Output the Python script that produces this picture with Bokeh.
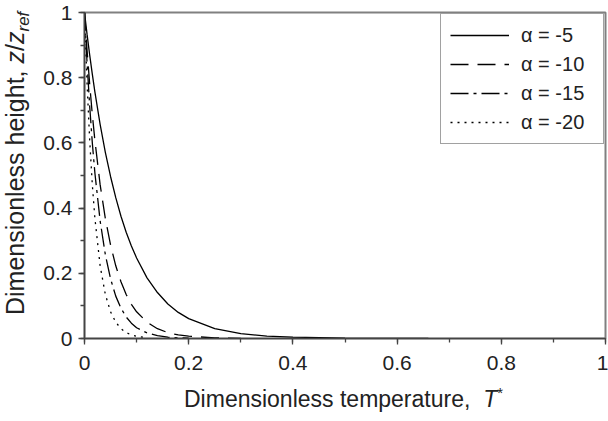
from bokeh.plotting import figure
from bokeh.models import (Range1d, SingleIntervalTicker, Legend, LegendItem, Div)
from bokeh.layouts import row, column
from bokeh.embed import file_html
from bokeh.resources import INLINE

# ---- data ----
T_a5 = [0, 0.005, 0.01, 0.015, 0.02, 0.03, 0.04, 0.05, 0.06, 0.07, 0.08, 0.09,
        0.10, 0.12, 0.14, 0.16, 0.18, 0.20, 0.25, 0.30, 0.35, 0.40, 0.50, 0.66]
z_a5 = [1.0, 0.932, 0.869, 0.811, 0.756, 0.657, 0.571, 0.497, 0.432, 0.375, 0.326, 0.284,
        0.247, 0.186, 0.141, 0.106, 0.080, 0.061, 0.030, 0.015, 0.007, 0.004, 0.001, 0.0]

T_a10 = [0, 0.005, 0.01, 0.015, 0.02, 0.03, 0.04, 0.05, 0.06, 0.07, 0.08, 0.09,
         0.10, 0.12, 0.14, 0.16, 0.18, 0.20, 0.25, 0.30]
z_a10 = [1.0, 0.882, 0.779, 0.687, 0.607, 0.472, 0.368, 0.287, 0.223, 0.174, 0.135, 0.105,
         0.082, 0.050, 0.030, 0.018, 0.011, 0.007, 0.002, 0.0]

T_a15 = [0, 0.005, 0.01, 0.015, 0.02, 0.03, 0.04, 0.05, 0.06, 0.07, 0.08, 0.09,
         0.10, 0.12, 0.14, 0.16, 0.18, 0.20]
z_a15 = [1.0, 0.844, 0.712, 0.600, 0.507, 0.361, 0.257, 0.183, 0.130, 0.093, 0.066, 0.047,
         0.033, 0.017, 0.009, 0.004, 0.002, 0.001]

T_a20 = [0, 0.005, 0.01, 0.015, 0.02, 0.03, 0.04, 0.05, 0.06, 0.07, 0.08, 0.09,
         0.10, 0.12]
z_a20 = [1.0, 0.779, 0.607, 0.472, 0.368, 0.223, 0.135, 0.082, 0.050, 0.030, 0.018, 0.011,
         0.007, 0.002]

series_labels = ["\u03b1 = -5", "\u03b1 = -10", "\u03b1 = -15", "\u03b1 = -20"]
series_dash = ["solid", "18 9", "18 5 3 5", "2 5"]

FONT = "Liberation Sans"
TXT = "#222222"

YDIV_W = 40          # column holding the rotated y title
FIG_W, FIG_H = 568, 384
XDIV_H = 421 - FIG_H

p = figure(width=FIG_W, height=FIG_H, output_backend="svg", toolbar_location=None,
           x_range=Range1d(0, 1), y_range=Range1d(0, 1),
           min_border_left=82 - YDIV_W, min_border_right=3, min_border_top=12,
           min_border_bottom=46)
p.xgrid.visible = False
p.ygrid.visible = False
p.background_fill_color = "white"
p.border_fill_color = "white"
p.outline_line_color = "#808080"
p.outline_line_width = 2

for ax in (p.xaxis[0], p.yaxis[0]):
    ax.ticker = SingleIntervalTicker(interval=0.2, num_minor_ticks=2)
    ax.axis_line_color = "#444444"
    ax.axis_line_width = 1.5
    ax.major_tick_line_color = "#444444"
    ax.minor_tick_line_color = "#444444"
    ax.major_tick_line_width = 1.3
    ax.minor_tick_line_width = 1.3
    ax.major_tick_out = 6
    ax.major_tick_in = 0
    ax.minor_tick_out = 4
    ax.minor_tick_in = 0
    ax.major_label_text_font = FONT
    ax.major_label_text_font_size = "21px"
    ax.major_label_text_color = TXT
    ax.axis_label = None
p.yaxis[0].major_label_standoff = 6
p.xaxis[0].major_label_standoff = 11
p.xaxis[0].major_label_overrides = {0: "0", 1: "1"}
p.yaxis[0].major_label_overrides = {0: "0", 1: "1"}

data = [(T_a5, z_a5), (T_a10, z_a10), (T_a15, z_a15), (T_a20, z_a20)]
items = []
for (tx, zy), lab, dash in zip(data, series_labels, series_dash):
    r = p.line(tx, zy, line_color="black", line_width=1.3, line_dash=dash)
    items.append(LegendItem(label=lab, renderers=[r]))

legend = Legend(items=items, location="top_right", margin=1, padding=9,
                spacing=5, label_height=24, glyph_height=24, glyph_width=59,
                label_standoff=12, label_width=73,
                label_text_font=FONT, label_text_font_size="20px",
                label_text_color=TXT,
                border_line_color="#444444", border_line_width=1,
                background_fill_color="white", background_fill_alpha=1.0)
p.add_layout(legend)

# ---- axis titles as HTML text (italic / subscript / superscript parts) ----
BASE = ("position:absolute;white-space:nowrap;"
        "font-family:'Liberation Sans',Arial,sans-serif;color:#222;")

XS = 23   # x title font size (px)
x_html = ('<div style="position:relative;width:%dpx;height:%dpx;">' % (FIG_W, XDIV_H)
          + f'<span style="{BASE}left:{184 - YDIV_W}px;top:{407 - FIG_H - 0.848 * XS:.1f}px;'
            f'font-size:{XS}px;line-height:{XS}px;">'
          + 'Dimensionless temperature,&nbsp; <i>T</i>'
            '<span style="font-size:15px;position:relative;top:-9px;">*</span>'
          + '</span></div>')

YS = 25   # y title font size (px)
y_html = ('<div style="position:relative;width:%dpx;height:421px;">' % YDIV_W
          + f'<span style="{BASE}left:{24 - 0.848 * YS:.1f}px;top:315px;'
            f'font-size:{YS}px;line-height:{YS}px;'
            'transform:rotate(-90deg);transform-origin:0 0;">'
          + 'Dimensionless height, <i>z</i>/<i>z</i>'
            '<span style="font-size:17px;font-style:italic;position:relative;top:5px;">ref</span>'
          + '</span></div>')

xdiv = Div(text=x_html, width=FIG_W, height=XDIV_H, margin=0)
ydiv = Div(text=y_html, width=YDIV_W, height=421, margin=0)

layout = row(ydiv, column(p, xdiv, spacing=0, margin=0), spacing=0, margin=0)

open("out.html", "w").write(file_html(layout, INLINE))
